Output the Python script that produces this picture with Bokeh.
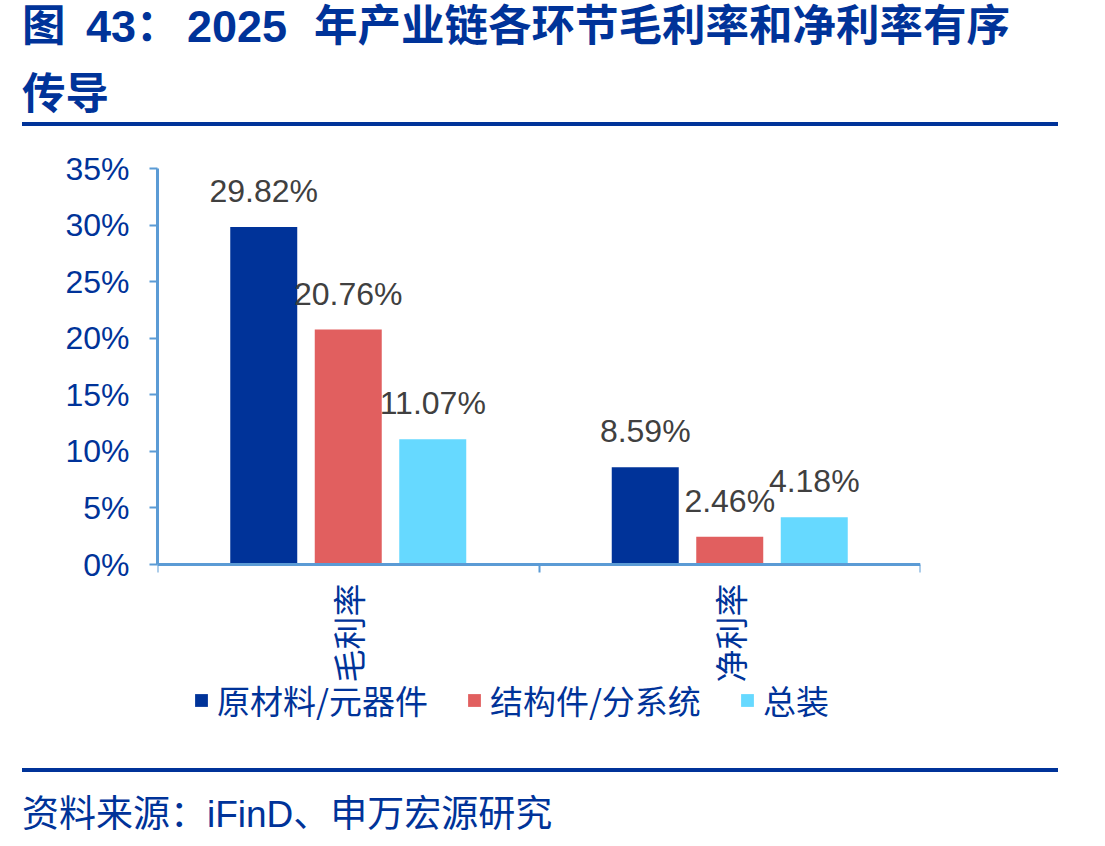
import math
from bokeh.plotting import figure
from bokeh.models import (Range1d, LinearAxis, FixedTicker, Div,
                          PrintfTickFormatter, Legend, LegendItem, ColumnDataSource)
from bokeh.transform import dodge
from bokeh.layouts import column
from bokeh.core.properties import value
from bokeh.embed import file_html
from bokeh.resources import INLINE

# ---------------- data ----------------
categories = ["毛利率", "净利率"]
series_names = ["原材料/元器件", "结构件/分系统", "总装"]
raw_materials = [29.82, 8.59]
structures = [20.76, 2.46]
assembly = [11.07, 4.18]
y_ticks = [0, 5, 10, 15, 20, 25, 30, 35]
title_parts = ["图", "43", "：", "2025", "年产业链各环节毛利率和净利率有序"]
title_line2 = "传导"
source_text = "资料来源：iFinD、申万宏源研究"

# ---------------- style ----------------
W = 1105
DARK = "#003399"
AXIS_BLUE = "#5B9BD5"
COLORS = ["#003399", "#E15F5F", "#66D9FF"]
LATIN = "Liberation Sans, Noto Sans CJK SC"
CJK = "Noto Sans CJK SC"
OFFSETS = [-0.2215, 0.0, 0.2215]
BAR_W = 0.1756
CSS_FONT = "'Liberation Sans','Noto Sans CJK SC',sans-serif"

# layout in pixels
FIG_H = 630
FRAME_TOP = 38
FRAME_BOTTOM_BORDER = 20
FRAME_H = FIG_H - FRAME_TOP - FRAME_BOTTOM_BORDER
AXIS_PX = 396                     # pixel height from 0% to 35%

# ---------------- title ----------------
def part(txt, left, top, size):
    return (f'<div style="position:absolute;left:{left}px;top:{top}px;line-height:1;'
            f'font-size:{size}px;white-space:nowrap;">{txt}</div>')

title_html = (
    f'<div style="position:relative;width:{W}px;height:130px;font-family:{CSS_FONT};'
    f'font-weight:bold;color:{DARK};">'
    + part(title_parts[0], 22, 5, 43.5)
    + part(title_parts[1], 86, 4, 45)
    + part(title_parts[2], 136, 5, 43.5)
    + part(title_parts[3], 187, 4, 45)
    + part(title_parts[4], 314, 5, 43.5)
    + part(title_line2, 22, 73, 43.5)
    + f'<div style="position:absolute;left:22px;top:122px;width:1036px;height:4px;background:{DARK};"></div>'
    '</div>'
)
title_div = Div(text=title_html, width=W, height=130, margin=0)

# ---------------- main chart ----------------
n = len(categories)
centers = [i + 0.5 for i in range(n)]          # category slot centres on a 0..n axis
src = ColumnDataSource(dict(xc=centers, s0=raw_materials, s1=structures, s2=assembly,
                            l0=[f"{v:.2f}%" for v in raw_materials],
                            l1=[f"{v:.2f}%" for v in structures],
                            l2=[f"{v:.2f}%" for v in assembly]))

y_top = y_ticks[-1]
y_low = -y_top * (FRAME_H - AXIS_PX) / AXIS_PX   # frame extends below 0 to hold labels/legend

p = figure(width=W, height=FIG_H, x_range=Range1d(0, n),
           y_range=Range1d(y_low, y_top),
           output_backend="svg", toolbar_location=None,
           x_axis_location=None, y_axis_location="left",
           min_border_left=157, min_border_right=185, min_border_top=FRAME_TOP,
           min_border_bottom=FRAME_BOTTOM_BORDER)
p.grid.visible = False
p.outline_line_color = None

ax = p.yaxis[0]
ax.ticker = FixedTicker(ticks=y_ticks)
ax.bounds = (y_ticks[0], y_ticks[-1])
ax.formatter = PrintfTickFormatter(format="%d%%")
ax.axis_line_color = AXIS_BLUE
ax.axis_line_width = 3
ax.major_tick_line_color = AXIS_BLUE
ax.major_tick_line_width = 2
ax.major_tick_out = 8
ax.major_tick_in = 0
ax.minor_tick_line_color = None
ax.major_label_standoff = 20
ax.major_label_text_font = LATIN
ax.major_label_text_font_size = "32px"
ax.major_label_text_color = DARK

bounds = list(range(n + 1))
tick_axis = LinearAxis(ticker=FixedTicker(ticks=bounds), fixed_location=0,
                       major_label_overrides={b: "" for b in bounds},
                       major_label_text_font_size="1px", major_label_standoff=0,
                       axis_line_color=AXIS_BLUE, axis_line_width=3,
                       major_tick_line_color=AXIS_BLUE, major_tick_line_width=2,
                       major_tick_out=8, major_tick_in=0, minor_tick_line_color=None)
p.add_layout(tick_axis, "below")

# category labels, rotated, hanging below the zero line
p.text(x=centers, y=[0] * n, text=categories, angle=math.pi / 2,
       text_align="right", text_baseline="middle", y_offset=19,
       text_font=value(CJK), text_font_size="33px", text_color=DARK)

renderers = []
for i, key in enumerate(["s0", "s1", "s2"]):
    r = p.vbar(x=dodge("xc", OFFSETS[i]), top=key, width=BAR_W,
               source=src, fill_color=COLORS[i], line_color=None)
    renderers.append(r)
    p.text(x=dodge("xc", OFFSETS[i]), y=key, text=f"l{i}", source=src,
           text_font=value(LATIN), text_font_size="32px", text_color="#404040",
           text_align="center", text_baseline="alphabetic", y_offset=-36)

legend = Legend(items=[LegendItem(label=series_names[i], renderers=[renderers[i]]) for i in range(3)],
                orientation="horizontal", location=(36, 16), glyph_width=16, glyph_height=16,
                label_standoff=8, spacing=38, padding=0, margin=0,
                border_line_color=None, background_fill_alpha=0,
                label_text_font=CJK, label_text_font_size="33px", label_text_color=DARK)
p.add_layout(legend, "center")

# ---------------- footer ----------------
footer_html = (
    f'<div style="position:relative;width:{W}px;height:86px;font-family:{CSS_FONT};'
    f'font-size:37px;color:{DARK};">'
    f'<div style="position:absolute;left:22px;top:8px;width:1036px;height:4px;background:{DARK};"></div>'
    f'<div style="position:absolute;left:22px;top:33px;line-height:44px;white-space:nowrap;">{source_text}</div>'
    '</div>'
)
footer_div = Div(text=footer_html, width=W, height=86, margin=0)

layout = column(title_div, p, footer_div, spacing=0)
open("out.html", "w").write(file_html(layout, INLINE))
